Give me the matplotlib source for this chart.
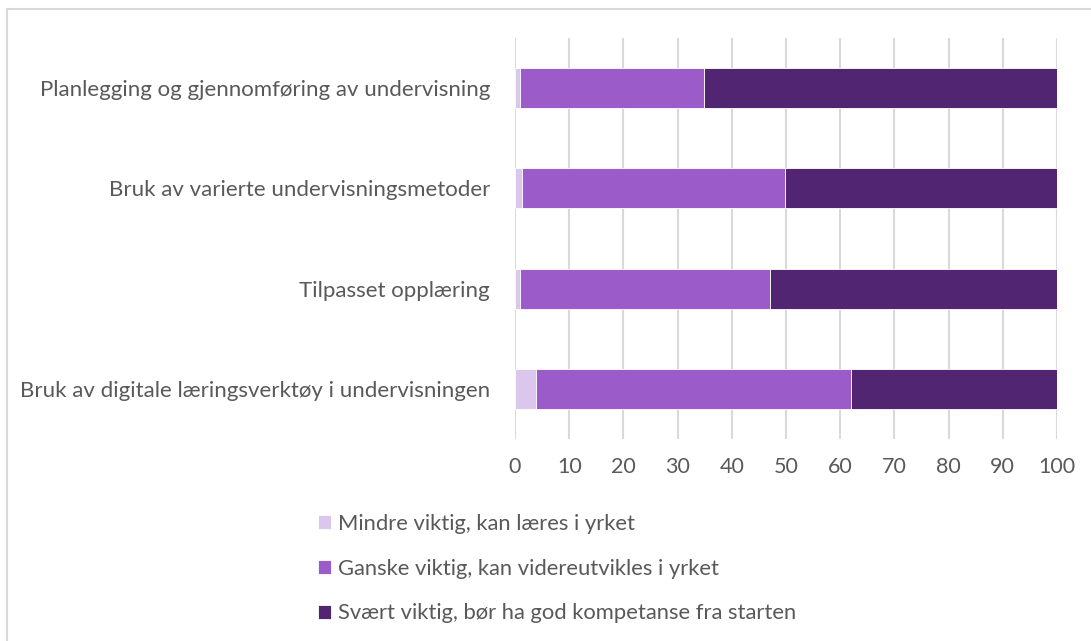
import numpy as np
import matplotlib.pyplot as plt
from matplotlib.patches import Rectangle

plt.rcParams['font.family'] = ['Lato', 'DejaVu Sans']

kategorier = [
    "Planlegging og gjennomføring av undervisning",
    "Bruk av varierte undervisningsmetoder",
    "Tilpasset opplæring",
    "Bruk av digitale læringsverktøy i undervisningen",
]
serier = [
    "Mindre viktig, kan læres i yrket",
    "Ganske viktig, kan videreutvikles i yrket",
    "Svært viktig, bør ha god kompetanse fra starten",
]
mindre = [0.9, 1.2, 0.9, 3.9]
ganske = [34.0, 48.6, 46.1, 58.1]
svaert = [65.1, 50.2, 53.0, 38.0]
farger = ["#dcc7ec", "#9b5bc9", "#522572"]
tekstfarge = "#595959"

fig = plt.figure(figsize=(10.91, 6.41), dpi=100)
ax = fig.add_axes([515 / 1091, 1 - 439 / 641, 542 / 1091, 401 / 641])

y = np.arange(len(kategorier))
venstre = np.zeros(len(kategorier))
staver = []
for verdier, farge, navn in zip([mindre, ganske, svaert], farger, serier):
    b = ax.barh(y, verdier, left=venstre, height=0.4, color=farge,
                edgecolor="white", linewidth=0.6, label=navn, zorder=3)
    staver.append(b)
    venstre += np.array(verdier)

ax.set_ylim(len(kategorier) - 0.5, -0.5)
ax.set_xlim(0, 100)
ax.set_xticks(np.arange(0, 101, 10))
ax.set_yticks(y)
ax.set_yticklabels(kategorier)
ax.grid(axis="x", color="#d9d9d9", linewidth=1.5, zorder=0)
for s in ax.spines.values():
    s.set_visible(False)
ax.tick_params(axis="y", length=0, pad=18, labelsize=16, labelcolor=tekstfarge)
ax.tick_params(axis="x", length=0, pad=13, labelsize=15.5, labelcolor=tekstfarge)

fig.legend(handles=staver, labels=serier, loc="upper left",
           bbox_to_anchor=(309 / 1091, 1 - 505 / 641), frameon=False,
           fontsize=15.8, labelcolor=tekstfarge, handlelength=0.6,
           handleheight=0.6, handletextpad=0.3, labelspacing=1.13,
           borderaxespad=0)

# tynn grå ramme rundt hele diagrammet
fig.patches.append(Rectangle((7 / 1091, -0.1), 1.2, 1.1 - 9 / 641,
                             transform=fig.transFigure, fill=False,
                             edgecolor="#d9d9d9", linewidth=1.5))

fig.savefig("out.png", dpi=100)
